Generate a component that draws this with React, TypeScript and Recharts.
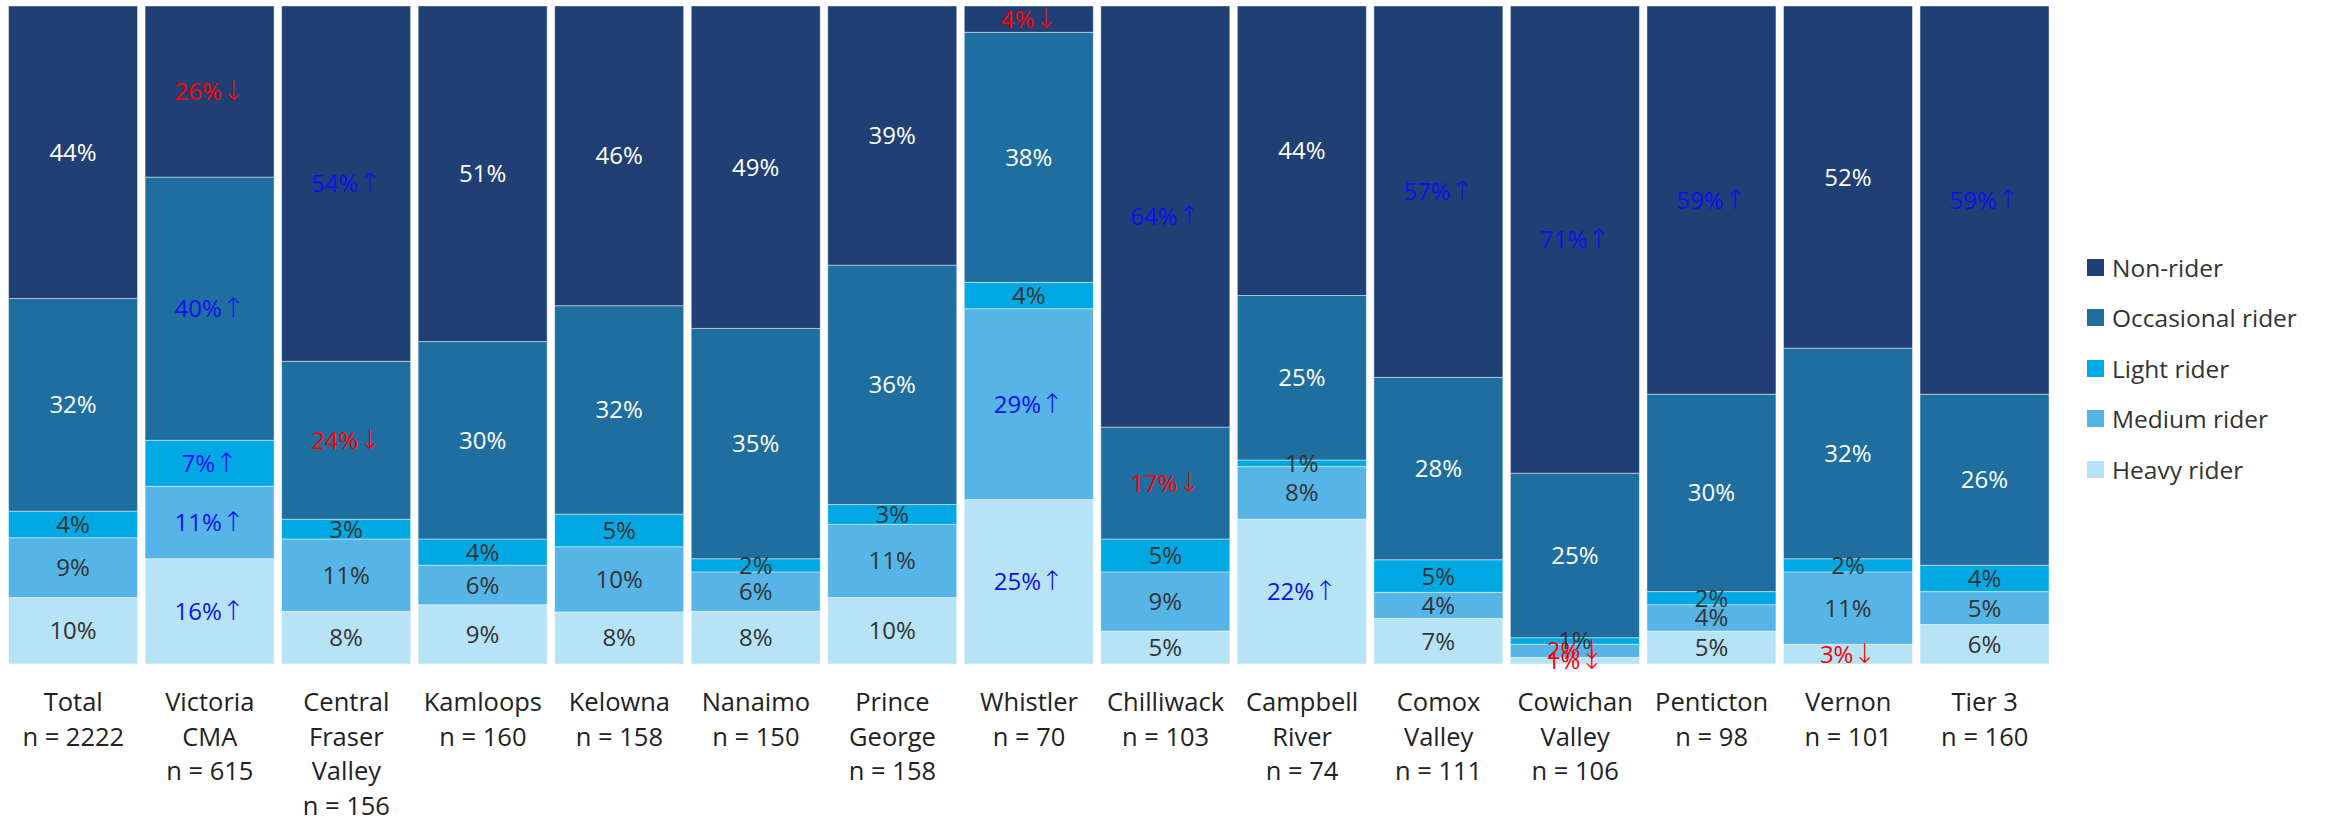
import React from 'react';
import { BarChart, Bar, XAxis, YAxis, LabelList } from 'recharts';

const categories = [
  ['Total', 'n = 2222'],
  ['Victoria', 'CMA', 'n = 615'],
  ['Central', 'Fraser', 'Valley', 'n = 156'],
  ['Kamloops', 'n = 160'],
  ['Kelowna', 'n = 158'],
  ['Nanaimo', 'n = 150'],
  ['Prince', 'George', 'n = 158'],
  ['Whistler', 'n = 70'],
  ['Chilliwack', 'n = 103'],
  ['Campbell', 'River', 'n = 74'],
  ['Comox', 'Valley', 'n = 111'],
  ['Cowichan', 'Valley', 'n = 106'],
  ['Penticton', 'n = 98'],
  ['Vernon', 'n = 101'],
  ['Tier 3', 'n = 160'],
];

const heavy = [10, 16, 8, 9, 8, 8, 10, 25, 5, 22, 7, 1, 5, 3, 6];
const medium = [9, 11, 11, 6, 10, 6, 11, 29, 9, 8, 4, 2, 4, 11, 5];
const light = [4, 7, 3, 4, 5, 2, 3, 4, 5, 1, 5, 1, 2, 2, 4];
const occasional = [32, 40, 24, 30, 32, 35, 36, 38, 17, 25, 28, 25, 30, 32, 26];
const nonRider = [44, 26, 54, 51, 46, 49, 39, 4, 64, 44, 57, 71, 59, 52, 59];

// significance: 'u' = significantly higher, 'd' = significantly lower, '' = none
const heavySig = ['', 'u', '', '', '', '', '', 'u', '', 'u', '', 'd', '', 'd', ''];
const mediumSig = ['', 'u', '', '', '', '', '', 'u', '', '', '', 'd', '', '', ''];
const lightSig = ['', 'u', '', '', '', '', '', '', '', '', '', '', '', '', ''];
const occasionalSig = ['', 'u', 'd', '', '', '', '', '', 'd', '', '', '', '', '', ''];
const nonRiderSig = ['', 'd', 'u', '', '', '', '', 'd', 'u', '', 'u', 'u', 'u', '', 'u'];

const series = [
  { key: 'heavy', name: 'Heavy rider', color: '#B6E3F6', text: '#333333', values: heavy, sig: heavySig },
  { key: 'medium', name: 'Medium rider', color: '#56B4E6', text: '#333333', values: medium, sig: mediumSig },
  { key: 'light', name: 'Light rider', color: '#00A9E3', text: '#333333', values: light, sig: lightSig },
  { key: 'occasional', name: 'Occasional rider', color: '#1F6EA0', text: '#FFFFFF', values: occasional, sig: occasionalSig },
  { key: 'nonRider', name: 'Non-rider', color: '#1F3F75', text: '#FFFFFF', values: nonRider, sig: nonRiderSig },
];

const data = categories.map((c, i) => {
  const row: any = { name: c.join('|'), idx: i };
  series.forEach((s) => {
    row[s.key] = s.values[i];
  });
  return row;
});

const FONT = '"Open Sans", "Noto Sans", sans-serif';

const Tick = (props: any) => {
  const { x, y, payload } = props;
  const lines = String(payload.value).split('|');
  return (
    <g transform={`translate(${x},${y})`}>
      {lines.map((l, i) => (
        <text key={i} x={0} y={39 + i * 34.5} textAnchor="middle" fill="#222" fontSize={25.5} fontFamily={FONT}>
          {l}
        </text>
      ))}
    </g>
  );
};

const makeLabel = (s: any) => (props: any) => {
  const { x, y, width, height, index } = props;
  const v = s.values[index];
  const sig = s.sig[index];
  const fill = sig === 'u' ? '#1010F0' : sig === 'd' ? '#FF0000' : s.text;
  const arrow = sig === 'u' ? '↑' : sig === 'd' ? '↓' : '';
  return (
    <text
      x={x + width / 2}
      y={y + height / 2 + 8.5}
      textAnchor="middle"
      fill={fill}
      fontSize={24}
      fontFamily={FONT}
    >
      {`${v}%`}
      {arrow ? (
        <tspan fontFamily='"DejaVu Sans", sans-serif' fontSize={27} fontWeight={200}>
          {arrow}
        </tspan>
      ) : null}
    </text>
  );
};

const LegendBox = () => {
  const items = [...series].reverse();
  return (
    <div style={{ position: 'absolute', left: 2087, top: 242, width: 248, fontFamily: FONT }}>
      {items.map((s) => (
        <div key={s.key} style={{ display: 'flex', alignItems: 'center', height: 50.5 }}>
          <div style={{ width: 17, height: 17, background: s.color, marginRight: 8 }} />
          <span style={{ fontSize: 24.5, color: '#333' }}>{s.name}</span>
        </div>
      ))}
    </div>
  );
};

export default function App() {
  return (
    <div style={{ position: 'absolute', left: 0, top: 0, width: 2335, height: 820, background: '#fff' }}>
      <BarChart
        width={2335}
        height={820}
        data={data}
        stackOffset="expand"
        barCategoryGap="2.6%"
        margin={{ top: 6, right: 282, bottom: 6, left: 5 }}
      >
        <XAxis dataKey="name" tick={<Tick />} axisLine={false} tickLine={false} interval={0} height={150} />
        <YAxis hide domain={[0, 1]} />
        {series.map((s) => (
          <Bar
            key={s.key}
            dataKey={s.key}
            name={s.name}
            stackId="a"
            fill={s.color}
            stroke="#ffffff"
            strokeOpacity={0.45}
            strokeWidth={1}
            isAnimationActive={false}
          >
            <LabelList dataKey={s.key} content={makeLabel(s)} />
          </Bar>
        ))}
      </BarChart>
      <LegendBox />
    </div>
  );
}
